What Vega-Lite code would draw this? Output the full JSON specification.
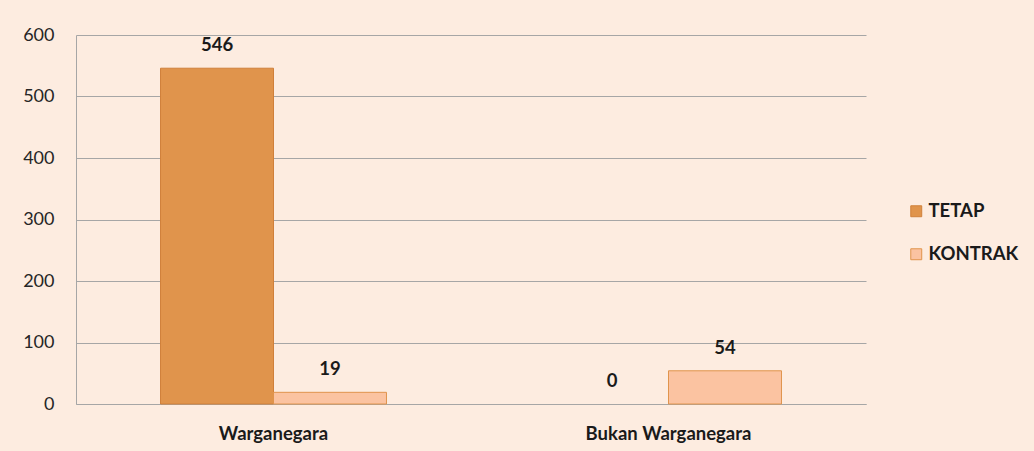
{
  "$schema": "https://vega.github.io/schema/vega-lite/v6.json",
  "width": 790,
  "height": 369,
  "autosize": {"type": "none"},
  "padding": {"left": 76, "top": 35, "right": 168, "bottom": 47},
  "background": "#FDECE0",
  "config": {
    "view": {"stroke": null},
    "font": "Lato"
  },
  "data": {
    "values": [
      {"kategori": "Warganegara", "jenis": "TETAP", "jumlah": 546},
      {"kategori": "Warganegara", "jenis": "KONTRAK", "jumlah": 19},
      {"kategori": "Bukan Warganegara", "jenis": "TETAP", "jumlah": 0},
      {"kategori": "Bukan Warganegara", "jenis": "KONTRAK", "jumlah": 54}
    ]
  },
  "encoding": {
    "x": {
      "field": "kategori",
      "type": "nominal",
      "sort": ["Warganegara", "Bukan Warganegara"],
      "scale": {"paddingInner": 0.428, "paddingOuter": 0.214},
      "axis": {
        "title": null,
        "labelAngle": 0,
        "labelFont": "Lato",
        "labelFontSize": 18.5,
        "labelFontWeight": "bold",
        "labelColor": "#1a1a1a",
        "labelPadding": 20,
        "ticks": false,
        "domainColor": "#A6A6A6",
        "grid": false
      }
    },
    "xOffset": {
      "field": "jenis",
      "type": "nominal",
      "sort": ["TETAP", "KONTRAK"],
      "scale": {"paddingInner": 0, "paddingOuter": 0}
    },
    "y": {
      "field": "jumlah",
      "type": "quantitative",
      "scale": {"domain": [0, 600], "nice": false},
      "axis": {
        "title": null,
        "values": [0, 100, 200, 300, 400, 500, 600],
        "labelFont": "Lato",
        "labelFontSize": 18,
        "labelColor": "#262626",
        "labelPadding": 22,
        "ticks": false,
        "domainColor": "#A6A6A6",
        "gridColor": "#A6A6A6",
        "gridWidth": 1
      }
    }
  },
  "layer": [
    {
      "mark": {"type": "bar"},
      "encoding": {
        "color": {
          "field": "jenis",
          "type": "nominal",
          "sort": ["TETAP", "KONTRAK"],
          "scale": {"domain": ["TETAP", "KONTRAK"], "range": ["#E0944C", "#FBC3A1"]},
          "legend": {
            "title": null,
            "orient": "none",
            "legendX": 831,
            "legendY": 167,
            "symbolType": "square",
            "symbolSize": 120,
            "symbolStrokeColor": "#D07F38",
            "symbolStrokeWidth": 1,
            "labelFont": "Lato",
            "labelFontSize": 18.5,
            "labelFontWeight": "bold",
            "labelColor": "#1a1a1a",
            "rowPadding": 24,
            "labelOffset": 3
          }
        },
        "stroke": {
          "field": "jenis",
          "type": "nominal",
          "scale": {"domain": ["TETAP", "KONTRAK"], "range": ["#D0803A", "#E0944C"]},
          "legend": null
        },
        "strokeWidth": {
          "condition": {"test": "datum.jumlah == 0", "value": 0},
          "value": 1
        }
      }
    },
    {
      "mark": {
        "type": "text",
        "dy": -23,
        "baseline": "middle",
        "font": "Lato",
        "fontSize": 18.5,
        "fontWeight": "bold",
        "color": "#1a1a1a"
      },
      "encoding": {
        "text": {"field": "jumlah", "type": "quantitative"}
      }
    }
  ]
}
